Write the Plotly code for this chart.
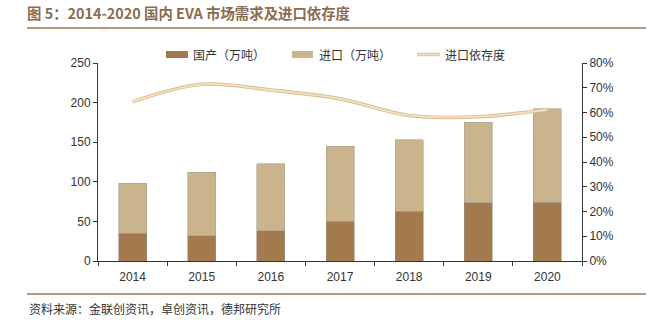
import plotly.graph_objects as go

years = ["2014", "2015", "2016", "2017", "2018", "2019", "2020"]
domestic = [35, 32, 38, 50, 63, 73.5, 74.5]
imports = [63, 80, 85, 95, 90, 102, 117.5]
dependency = [64.3, 71.4, 69.1, 65.5, 58.8, 58.3, 61.2]
legend_names = ["国产（万吨）", "进口（万吨）", "进口依存度"]

W, H = 654, 325
L, R, T, B = 98, 582, 63, 261

def px(x):
    return (x - L) / (R - L)

def py(y):
    return (B - y) / (B - T)

tick_font = dict(family="Liberation Sans, Arial", size=12, color="#333333")
cjk = "Noto Sans CJK SC"
c_dom, c_imp = "#A27A4E", "#C9B48D"

fig = go.Figure()
fig.add_trace(go.Bar(x=years, y=domestic, name=legend_names[0],
                     marker=dict(color=c_dom, line=dict(color="#9A8F80", width=0.6))))
fig.add_trace(go.Bar(x=years, y=imports, name=legend_names[1],
                     marker=dict(color=c_imp, line=dict(color="#A8A090", width=0.6))))
fig.add_trace(go.Scatter(x=years, y=dependency, yaxis="y2", mode="lines",
                         line=dict(color="#D8BD92", width=3.6, shape="spline", smoothing=1.0),
                         hoverinfo="skip"))
fig.add_trace(go.Scatter(x=years, y=dependency, yaxis="y2", mode="lines", name=legend_names[2],
                         line=dict(color="#F6E1BE", width=1.8, shape="spline", smoothing=1.0)))

shapes = [
    dict(type="line", xref="paper", yref="paper", x0=px(27), x1=px(646), y0=py(28), y1=py(28),
         line=dict(color="#B89A7A", width=2)),
    dict(type="line", xref="paper", yref="paper", x0=px(27), x1=px(646), y0=py(294), y1=py(294),
         line=dict(color="#B89A7A", width=2)),
    # legend swatches
    dict(type="rect", xref="paper", yref="paper", x0=px(166), x1=px(188), y0=py(51), y1=py(58),
         fillcolor=c_dom, line=dict(width=0)),
    dict(type="rect", xref="paper", yref="paper", x0=px(292), x1=px(313), y0=py(51), y1=py(58),
         fillcolor=c_imp, line=dict(width=0)),
    dict(type="line", xref="paper", yref="paper", x0=px(417), x1=px(440), y0=py(54.5), y1=py(54.5),
         line=dict(color="#D8BD92", width=3.4)),
    dict(type="line", xref="paper", yref="paper", x0=px(417), x1=px(440), y0=py(54.5), y1=py(54.5),
         line=dict(color="#F6E1BE", width=1.6)),
]

legend_font = dict(family=cjk, size=12, color="#333333")
annotations = [
    dict(text="资料来源：金联创资讯，卓创资讯，德邦研究所", xref="paper", yref="paper",
         x=px(27), y=py(308), xanchor="left", yanchor="middle", showarrow=False,
         font=dict(family=cjk, size=12, color="#333333")),
]
for name, x0 in zip(legend_names, [191, 317, 443]):
    annotations.append(dict(text=name, xref="paper", yref="paper", x=px(x0), y=py(55),
                            xanchor="left", yanchor="middle", showarrow=False, font=legend_font))

fig.update_layout(
    width=W, height=H,
    margin=dict(l=L, r=W - R, t=T, b=H - B, pad=0),
    paper_bgcolor="white", plot_bgcolor="white",
    barmode="stack", bargap=0.595,
    showlegend=False,
    title=dict(text="<b>图 5：2014-2020 国内 EVA 市场需求及进口依存度</b>",
               x=27 / W, xanchor="left", xref="container",
               y=1 - 14 / H, yanchor="middle", yref="container",
               font=dict(family=cjk, size=14.4, color="#8C6C4E")),
    xaxis=dict(type="category", showgrid=False, showline=True, linecolor="#333333", linewidth=1,
               ticks="outside", tickson="boundaries", ticklen=4, tickcolor="#333333",
               tickfont=tick_font, zeroline=False, ticklabelstandoff=5),
    yaxis=dict(range=[0, 250], dtick=50, showgrid=False, showline=True, linecolor="#333333",
               linewidth=1, ticks="outside", ticklen=4, tickcolor="#333333", tickfont=tick_font,
               zeroline=False),
    yaxis2=dict(range=[0, 80], dtick=10, ticksuffix="%", overlaying="y", side="right",
                showgrid=False, showline=True, linecolor="#333333", linewidth=1,
                ticks="outside", ticklen=4, tickcolor="#333333", tickfont=tick_font,
                zeroline=False),
    shapes=shapes,
    annotations=annotations,
)

fig.write_html("out.html")
